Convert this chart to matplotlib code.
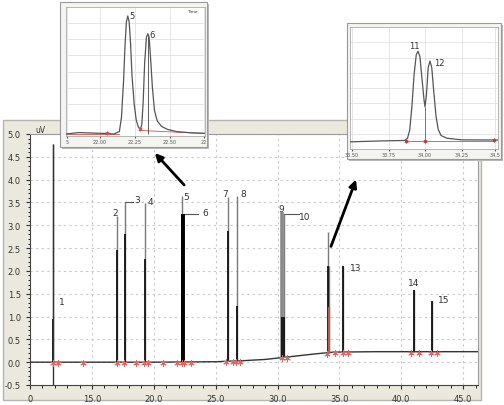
import numpy as np
import matplotlib.pyplot as plt
from matplotlib.patches import Rectangle, FancyArrowPatch
from matplotlib.ticker import MultipleLocator
from matplotlib.transforms import ScaledTranslation

W, H = 504, 406


def frac(x0, y0, x1, y1):
    # pixel box (top-left origin) -> figure fraction [l, b, w, h]
    return [x0 / W, 1 - y1 / H, (x1 - x0) / W, (y1 - y0) / H]


# ---- main chromatogram data ----
baseline_t = [10.0, 20.0, 25.0, 27.0, 29.0, 31.0, 33.0, 34.5, 38.0, 46.2]
baseline_v = [0.0, 0.0, 0.01, 0.03, 0.06, 0.12, 0.18, 0.22, 0.23, 0.23]

peak_names = ["1", "2", "3", "4", "5", "6", "7", "8", "9", "10",
              "11", "12", "13", "14", "15"]
peak_times = [11.85, 17.05, 17.7, 19.3, 22.25, 22.35, 26.0, 26.7, 30.4, 30.5,
              34.05, 34.12, 35.3, 41.0, 42.5]
peak_tops = [4.78, 3.2, 3.5, 3.48, 3.65, 3.25, 3.62, 3.65, 3.3, 3.25,
             2.85, 2.1, 2.1, 1.58, 1.35]
peak_cores = [0.95, 2.45, 2.8, 2.27, 3.25, 3.25, 2.87, 1.23, 1.0, 1.0,
              2.1, 1.2, 2.1, 1.58, 1.35]

# label anchor positions (time, value); 11 and 12 are only named in the inset
label_t = [12.6, 16.87, 18.65, 19.7, 22.6, 24.15, 25.76, 27.2, 30.3, 32.2,
           None, None, 36.3, 41.0, 43.4]
label_v = [1.34, 3.29, 3.57, 3.53, 3.64, 3.29, 3.7, 3.7, 3.36, 3.2,
           None, None, 2.08, 1.75, 1.38]

star_times = [11.86, 12.27, 14.3, 17.0, 17.6, 18.6, 19.2, 19.5, 20.75, 21.9,
              22.3, 22.45, 23.0, 25.85, 26.4, 26.65, 26.98, 30.37, 30.78,
              34.0, 34.65, 35.3, 35.7, 40.8, 41.45, 42.4, 42.9]

# ---- inset 1 (peaks 5 and 6) ----
in1_t = [21.76, 21.85, 21.95, 22.05, 22.10, 22.14, 22.155, 22.17, 22.18, 22.19,
         22.2, 22.21, 22.22, 22.23, 22.245, 22.26, 22.275, 22.29, 22.3, 22.31,
         22.32, 22.333, 22.343, 22.352, 22.362, 22.375, 22.39, 22.41, 22.44,
         22.48, 22.55, 22.65, 22.75]
in1_v = [0.0, 0.012, 0.008, 0.004, 0.0, 0.02, 0.14, 0.45, 0.74, 0.95,
         1.0, 0.95, 0.76, 0.5, 0.26, 0.12, 0.06, 0.04, 0.08, 0.28,
         0.6, 0.82, 0.85, 0.82, 0.65, 0.4, 0.2, 0.11, 0.065,
         0.04, 0.02, 0.01, 0.006]

# ---- inset 2 (peaks 11 and 12) ----
in2_t = [33.49, 33.7, 33.86, 33.88, 33.895, 33.91, 33.925, 33.94, 33.952, 33.965,
         33.98, 33.993, 34.0, 34.01, 34.022, 34.034, 34.046, 34.06, 34.075,
         34.09, 34.11, 34.15, 34.25, 34.5]
in2_v = [-0.01, 0.0, 0.005, 0.03, 0.12, 0.38, 0.74, 0.96, 1.0, 0.94,
         0.68, 0.46, 0.38, 0.52, 0.82, 0.89, 0.82, 0.55, 0.28,
         0.13, 0.06, 0.03, 0.012, 0.01]

fig = plt.figure(figsize=(W / 100, H / 100), dpi=100)
fig.patch.set_facecolor("white")

# beige instrument panel behind the main axes
fig.add_artist(Rectangle((3 / W, 1 - 401 / H), 478 / W, 280 / H,
                         transform=fig.transFigure, facecolor="#ebe9dd",
                         edgecolor="#b5b5b0", lw=1.0, zorder=-1))

ax = fig.add_axes(frac(30, 135, 478, 386))
ax.set_xlim(10, 46.2)
ax.set_ylim(-0.5, 5.0)
ax.set_facecolor("white")

ax.plot(baseline_t, baseline_v, color="#333333", lw=1.0, zorder=3)

base_at_peak = np.interp(peak_times, baseline_t, baseline_v)
ax.vlines(peak_times, base_at_peak, peak_tops, color="#7a7a7a", lw=1.0, zorder=4)
ax.vlines(peak_times, base_at_peak, peak_cores, color="#111111", lw=1.3, zorder=5)
# first peak drawn through the lower frame, thick lump of peaks 5/6 and 9
ax.vlines(peak_times[0], -0.5, peak_tops[0], color="#333333", lw=1.0, zorder=5)
ax.vlines(peak_times[5], base_at_peak[5], peak_tops[5], color="#000000", lw=2.8, zorder=5)
ax.vlines(peak_times[8], base_at_peak[8], peak_tops[8], color="#8a8a8a", lw=2.6, zorder=4)
ax.vlines(peak_times[11], base_at_peak[11], 1.2, color="#b06050", lw=1.6, zorder=6)

for name, t, v in zip(peak_names, label_t, label_v):
    if t is not None:
        ax.text(t, v, name, fontsize=6.5, color="#333333", ha="center", va="center")

# leader lines for 3, 6, 10
for i, dx in [(2, 0.65), (5, 1.25), (9, 1.2)]:
    ax.plot([peak_times[i], peak_times[i] + dx], [peak_tops[i], peak_tops[i]],
            color="#555555", lw=0.8)

star_base = np.interp(star_times, baseline_t, baseline_v) - 0.02
ax.scatter(star_times, star_base, marker=(6, 2, 0), s=16, color="#d86a66",
           lw=0.7, zorder=7)

ax.set_yticks(np.arange(-0.5, 5.01, 0.5))
ax.set_yticklabels([f"{v:.1f}" for v in np.arange(-0.5, 5.01, 0.5)])
ax.yaxis.set_minor_locator(MultipleLocator(0.1))
ax.set_xticks([10, 15, 20, 25, 30, 35, 40, 45])
ax.set_xticklabels(["0", "15.0", "20.0", "25.0", "30.0", "35.0", "40.0", "45.0"])
ax.xaxis.set_minor_locator(MultipleLocator(1.0))
ax.get_xticklabels()[0].set_transform(
    ax.get_xticklabels()[0].get_transform() + ScaledTranslation(0.07, 0, fig.dpi_scale_trans))
ax.tick_params(labelsize=6, colors="#333333", length=3, width=0.8)
ax.tick_params(which="minor", length=1.8, width=0.6)
ax.grid(True, color="#c8c8c8", ls=(0, (2, 3)), lw=0.8)
ax.set_axisbelow(True)
for s in ["top", "right"]:
    ax.spines[s].set_color("#9a9a9a")
for s in ["left", "bottom"]:
    ax.spines[s].set_color("#444444")
ax.text(0.012, 1.0, "uV", transform=ax.transAxes, fontsize=5.5, color="#333333",
        ha="left", va="bottom")


def inset(box_px, frame_px, t, v, xlim, ylim, ticks, ticklabels):
    x0, y0, x1, y1 = frame_px
    fig.add_artist(Rectangle(((x0 + 2) / W, 1 - (y1 + 2) / H), (x1 - x0) / W,
                             (y1 - y0) / H, transform=fig.transFigure,
                             facecolor="#b8b8b8", edgecolor="none", zorder=2))
    fig.add_artist(Rectangle((x0 / W, 1 - y1 / H), (x1 - x0) / W, (y1 - y0) / H,
                             transform=fig.transFigure, facecolor="#f4f4f0",
                             edgecolor="#9a9a9a", lw=0.8, zorder=3))
    a = fig.add_axes(frac(*box_px), zorder=5)
    a.set_xlim(*xlim)
    a.set_ylim(*ylim)
    a.plot(t, v, color="#555555", lw=0.9, zorder=4)
    a.set_xticks(ticks)
    a.set_xticklabels(ticklabels)
    a.set_yticks(np.linspace(ylim[0], ylim[1], 9)[1:-1])
    a.set_yticklabels([])
    a.tick_params(axis="x", labelsize=3.5, colors="#555555", length=1.5, pad=1)
    a.tick_params(axis="y", length=0)
    a.grid(True, color="#e2e2e2", lw=0.6)
    for s in a.spines.values():
        s.set_color("#aaaaaa")
        s.set_linewidth(0.6)
    return a


a1 = inset((66, 8, 205, 137), (60, 3, 207, 148), in1_t, in1_v,
           (21.76, 22.75), (-0.017, 1.076),
           [21.765, 22.0, 22.25, 22.5, 22.74], ["5", "22.00", "22.25", "22.50", "22"])
a1.plot([21.76, 22.14], [0.004, 0.004], color="#d05050", lw=0.6)
a1.plot([22.29, 22.75], [0.03, 0.004], color="#d05050", lw=0.6)
a1.vlines(22.343, 0.0, 0.83, color="#444444", lw=0.6)
a1.scatter([22.05, 22.29], [0.01, 0.04], marker=(6, 2, 0), s=6, color="#d05050", lw=0.5, zorder=6)
a1.text(22.2 + 0.012, 1.0, "5", fontsize=6, color="#333333", va="center")
a1.text(22.355, 0.84, "6", fontsize=6, color="#333333", va="center")
a1.text(0.95, 0.985, "Time", transform=a1.transAxes, fontsize=3.2, color="#333333",
        ha="right", va="top")

a2 = inset((350, 28, 498, 150), (347, 24, 501, 160), in2_t, in2_v,
           (33.486, 34.5), (-0.09, 1.27),
           [33.5, 33.75, 34.0, 34.25, 34.48], ["33.50", "33.75", "34.00", "34.25", "34.5"])
a2.plot([33.87, 34.47], [0.0, 0.0], color="#d05050", lw=0.6)
a2.vlines(34.0, 0.0, 0.38, color="#d05050", lw=0.7)
a2.scatter([33.87, 34.0, 34.47], [0.0, 0.0, 0.01], marker=(6, 2, 0), s=6,
           color="#c04040", lw=0.5, zorder=6)
a2.text(33.93, 1.06, "11", fontsize=6, color="#333333", ha="center", va="center")
a2.text(34.1, 0.87, "12", fontsize=6, color="#333333", ha="center", va="center")

# arrows from the main trace up to the insets
for (xa, ya), (xb, yb) in [((186, 188), (153, 152)), ((330, 250), (357, 178))]:
    fig.add_artist(FancyArrowPatch((xa / W, 1 - ya / H), (xb / W, 1 - yb / H),
                                   transform=fig.transFigure, arrowstyle="-|>",
                                   mutation_scale=11, color="black", lw=2.0, zorder=10))

fig.savefig("out.png", dpi=100)
